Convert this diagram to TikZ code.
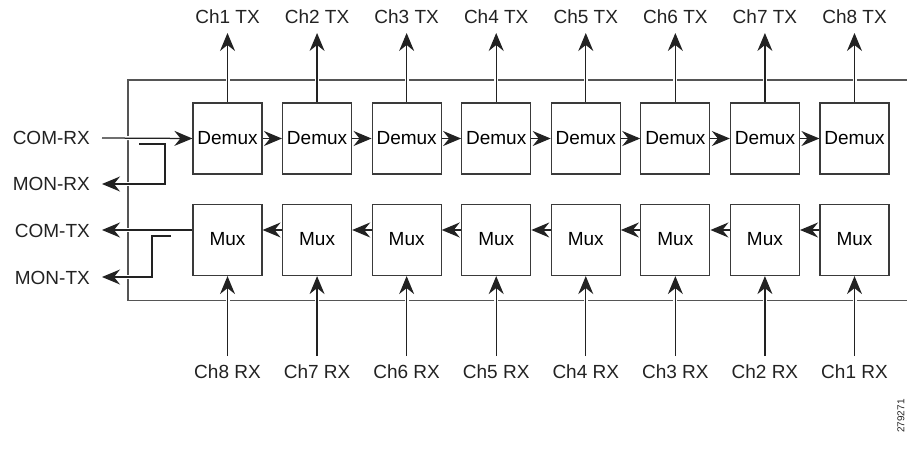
\documentclass[tikz,border=0pt]{standalone}
\usepackage{fontspec}
\setmainfont{Liberation Sans}
\usetikzlibrary{arrows.meta}
\pgfdeclarelayer{fg}
\pgfsetlayers{main,fg}
\definecolor{framec}{HTML}{555555}
\definecolor{boxc}{HTML}{3A3A3A}
\definecolor{linec}{HTML}{222222}
\begin{document}
\begin{tikzpicture}[x=1pt,y=-1pt,
  box/.style={draw=boxc, line width=1.2pt, fill=white, minimum width=69pt, minimum height=71pt, inner sep=0pt, font=\fontsize{19}{22}\selectfont},
  lab/.style={font=\fontsize{19}{22}\selectfont, inner sep=0pt, text=linec},
  link/.style={draw=linec, line width=1.25pt, -{Stealth[length=18pt,width=15pt,inset=6pt]}},
  gap/.style={preaction={draw=white,line width=4pt,arrows=-}}
]
\useasboundingbox (0,0) rectangle (907,449);
% frame
\draw[framec, line width=1.2pt] (907,80) -- (128,80) -- (128,300.5) -- (907,300.5);
% boxes
\begin{pgfonlayer}{fg}
\foreach \i in {1,...,8}{
  \pgfmathsetmacro{\xx}{227.5+89.57*(\i-1)}
  \node[box] (dm\i) at (\xx,138.5) {Demux};
  \node[box] (mx\i) at (\xx,240) {\raisebox{2pt}{Mux}};
}
\end{pgfonlayer}
% channel labels and connectors
\foreach \i in {1,...,8}{
  \pgfmathsetmacro{\xx}{227.5+89.57*(\i-1)}
  \pgfmathtruncatemacro{\rr}{9-\i}
  \node[lab] (tx\i) at (\xx,17) {Ch\i\ TX};
  \coordinate (txe\i) at (\xx,33);
  \node[lab] (rx\i) at (\xx,372) {Ch\rr\ RX};
  \coordinate (rxs\i) at (\xx,356);
  \draw[link,gap] (dm\i.north) -- (txe\i);
  \draw[link,gap] (rxs\i) -- (mx\i.south);
}
% chain arrows
\foreach \i [evaluate=\i as \j using int(\i+1)] in {1,...,7}{
  \draw[link] (dm\i.east) -- (dm\j.west);
  \draw[link] ([yshift=10pt]mx\j.west) -- ([yshift=10pt]mx\i.east);
}
% left labels
\node[lab, anchor=east] (comrx) at (90,138) {COM-RX};
\node[lab, anchor=east] (monrx) at (90,184) {MON-RX};
\node[lab, anchor=east] (comtx) at (90,231) {COM-TX};
\node[lab, anchor=east] (montx) at (90,278) {MON-TX};
\coordinate (rxtap) at (139,144);
\coordinate (txtap) at (171,236);
\draw[link,gap] ([xshift=12pt]comrx.east) -- (dm1.west);
\draw[link,gap] (rxtap) -- (165,144) -- (165,184) -- ([xshift=12pt]monrx.east);
\draw[link,gap] ([yshift=10pt]mx1.west) -- ([xshift=12pt]comtx.east |- 0,230);
\draw[link,gap] (txtap) -- (152,236) -- (152,277) -- ([xshift=12pt]montx.east |- 0,277);
% figure number
\node[font=\fontsize{10}{12}\selectfont, rotate=90, inner sep=0pt, text=linec] (fignum) at (901,416) {279271};
\end{tikzpicture}
\end{document}
